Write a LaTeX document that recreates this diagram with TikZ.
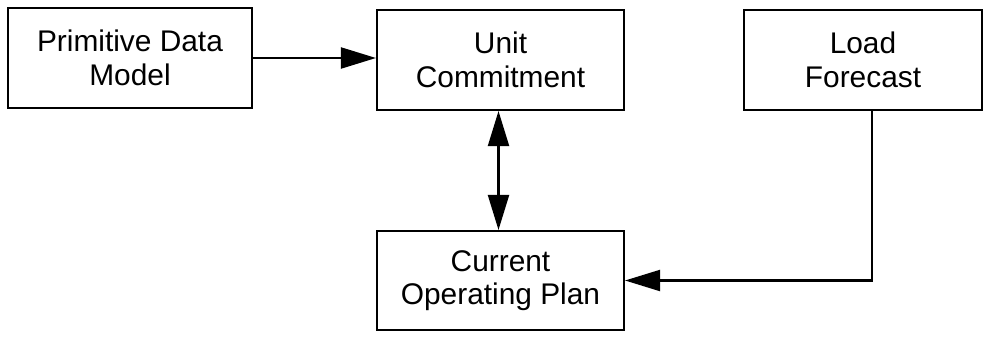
\documentclass[tikz,border=0pt]{standalone}
\usepackage{fontspec}
\setmainfont{Liberation Sans}
\usetikzlibrary{arrows.meta}
\tikzset{
	blk/.style={draw, line width=1.2pt, minimum height=2cm, align=center, inner sep=0pt,
		font=\fontsize{17}{19}\selectfont},
	conn/.style={line width=1.2pt, -{Triangle[length=0.7cm, width=0.42cm]}},
	biconn/.style={line width=1.2pt, {Triangle[length=0.7cm, width=0.42cm]}-{Triangle[length=0.7cm, width=0.42cm]}}
}
\begin{document}
\begin{tikzpicture}
		\useasboundingbox (0,0) rectangle (19.68,-6.72);
		\node[blk, minimum width=4.88cm] (pdm) at (2.6,-1.16) {Primitive Data\\Model};
		\node[blk, minimum width=4.94cm] (uc) at (10.01,-1.2) {Unit\\Commitment};
		\node[blk, minimum width=4.76cm] (lf) at (17.26,-1.2) {Load\\Forecast};
		\node[blk, minimum width=4.94cm, minimum height=1.98cm] (cop) at (10.01,-5.61) {Current\\Operating Plan};
		\draw[conn] (pdm.east) -- (pdm.east -| uc.west);
		\draw[biconn] ([xshift=-0.04cm]uc.south) -- ([xshift=-0.04cm]cop.north);
		\draw[conn] ([xshift=0.18cm]lf.south) |- (cop.east);
	\end{tikzpicture}
\end{document}
